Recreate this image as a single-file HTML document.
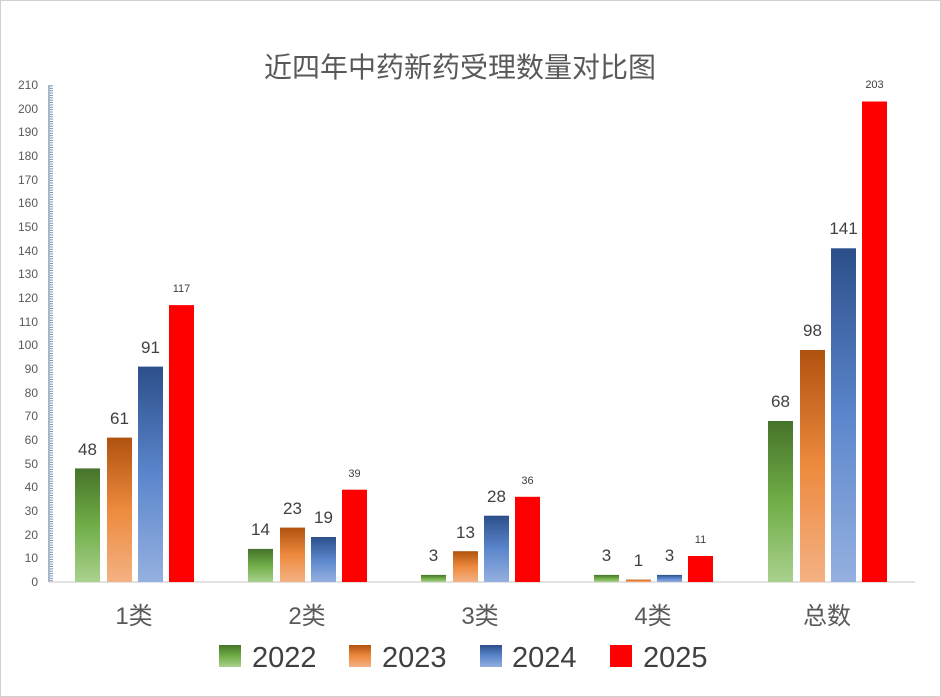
<!DOCTYPE html>
<html><head><meta charset="utf-8"><style>
html,body{margin:0;padding:0;background:#fff}
svg{display:block;font-family:"Liberation Sans","Noto Sans CJK SC",sans-serif}
</style></head><body>
<svg width="941" height="697" viewBox="0 0 941 697" xmlns="http://www.w3.org/2000/svg">
<defs>
<linearGradient id="g" x1="0" y1="0" x2="0" y2="1"><stop offset="0" stop-color="#46732a"/><stop offset="0.5" stop-color="#70ad47"/><stop offset="1" stop-color="#a9d18e"/></linearGradient>
<linearGradient id="o" x1="0" y1="0" x2="0" y2="1"><stop offset="0" stop-color="#b0520f"/><stop offset="0.5" stop-color="#ed8a3e"/><stop offset="1" stop-color="#f4b183"/></linearGradient>
<linearGradient id="b" x1="0" y1="0" x2="0" y2="1"><stop offset="0" stop-color="#2c4f8a"/><stop offset="0.5" stop-color="#5b86cc"/><stop offset="1" stop-color="#95b0e0"/></linearGradient>
<pattern id="tk" x="0" y="0.3" width="5" height="2.367" patternUnits="userSpaceOnUse"><rect x="0" y="0" width="4" height="0.9" fill="#6d87a8"/></pattern>
</defs>
<rect x="0.5" y="0.5" width="940" height="696" fill="#fff" stroke="#d0d0d0"/>
<text x="460" y="77" font-size="28" fill="#595959" text-anchor="middle">近四年中药新药受理数量对比图</text>
<!-- axis -->
<rect x="49" y="85" width="4" height="497" fill="url(#tk)"/>
<line x1="49" y1="85" x2="49" y2="582" stroke="#6d87a8" stroke-width="1.2"/>
<line x1="49" y1="582" x2="915" y2="582" stroke="#d0d0d0" stroke-width="1.2"/>
<g font-size="12" fill="#595959" text-anchor="end">
<text x="38" y="586">0</text><text x="38" y="562">10</text><text x="38" y="539">20</text><text x="38" y="515">30</text><text x="38" y="491">40</text><text x="38" y="468">50</text><text x="38" y="444">60</text><text x="38" y="420">70</text><text x="38" y="397">80</text><text x="38" y="373">90</text><text x="38" y="349">100</text><text x="38" y="326">110</text><text x="38" y="302">120</text><text x="38" y="278">130</text><text x="38" y="255">140</text><text x="38" y="231">150</text><text x="38" y="207">160</text><text x="38" y="184">170</text><text x="38" y="160">180</text><text x="38" y="136">190</text><text x="38" y="113">200</text><text x="38" y="89">210</text>
</g>
<!-- bars -->
<rect x="75" y="468.4" width="25" height="113.6" fill="url(#g)"/>
<rect x="107" y="437.6" width="25" height="144.4" fill="url(#o)"/>
<rect x="138" y="366.6" width="25" height="215.4" fill="url(#b)"/>
<rect x="169" y="305.1" width="25" height="276.9" fill="#ff0000"/>
<rect x="248" y="548.9" width="25" height="33.1" fill="url(#g)"/>
<rect x="280" y="527.6" width="25" height="54.4" fill="url(#o)"/>
<rect x="311" y="537" width="25" height="45" fill="url(#b)"/>
<rect x="342" y="489.7" width="25" height="92.3" fill="#ff0000"/>
<rect x="421" y="574.9" width="25" height="7.1" fill="url(#g)"/>
<rect x="453" y="551.2" width="25" height="30.8" fill="url(#o)"/>
<rect x="484" y="515.7" width="25" height="66.3" fill="url(#b)"/>
<rect x="515" y="496.8" width="25" height="85.2" fill="#ff0000"/>
<rect x="594" y="574.9" width="25" height="7.1" fill="url(#g)"/>
<rect x="626" y="579.6" width="25" height="2.4" fill="url(#o)"/>
<rect x="657" y="574.9" width="25" height="7.1" fill="url(#b)"/>
<rect x="688" y="556" width="25" height="26" fill="#ff0000"/>
<rect x="768" y="421" width="25" height="161" fill="url(#g)"/>
<rect x="800" y="350" width="25" height="232" fill="url(#o)"/>
<rect x="831" y="248.3" width="25" height="333.7" fill="url(#b)"/>
<rect x="862" y="101.5" width="25" height="480.5" fill="#ff0000"/>
<!-- labels -->
<g font-size="17" fill="#404040" text-anchor="middle">
<text x="87.5" y="455">48</text><text x="119.5" y="424">61</text><text x="150.5" y="353">91</text>
<text x="260.5" y="535">14</text><text x="292.5" y="514">23</text><text x="323.5" y="523">19</text>
<text x="433.5" y="561">3</text><text x="465.5" y="538">13</text><text x="496.5" y="502">28</text>
<text x="606.5" y="561">3</text><text x="638.5" y="566">1</text><text x="669.5" y="561">3</text>
<text x="780.5" y="407">68</text><text x="812.5" y="336">98</text><text x="843.5" y="234">141</text>
</g>
<g font-size="11" fill="#404040" text-anchor="middle">
<text x="181.5" y="292">117</text><text x="354.5" y="477">39</text><text x="527.5" y="484">36</text><text x="700.5" y="543">11</text><text x="874.5" y="88">203</text>
</g>
<g font-size="24" fill="#595959" text-anchor="middle">
<text x="134" y="624">1类</text><text x="307" y="624">2类</text><text x="480" y="624">3类</text><text x="653" y="624">4类</text><text x="827" y="624">总数</text>
</g>
<!-- legend -->
<rect x="219" y="645" width="22" height="22" fill="url(#g)"/>
<rect x="349" y="645" width="22" height="22" fill="url(#o)"/>
<rect x="480" y="645" width="22" height="22" fill="url(#b)"/>
<rect x="610" y="645" width="22" height="22" fill="#ff0000"/>
<g font-size="29" fill="#404040">
<text x="252" y="667">2022</text><text x="382" y="667">2023</text><text x="512" y="667">2024</text><text x="643" y="667">2025</text>
</g>
</svg>
</body></html>
